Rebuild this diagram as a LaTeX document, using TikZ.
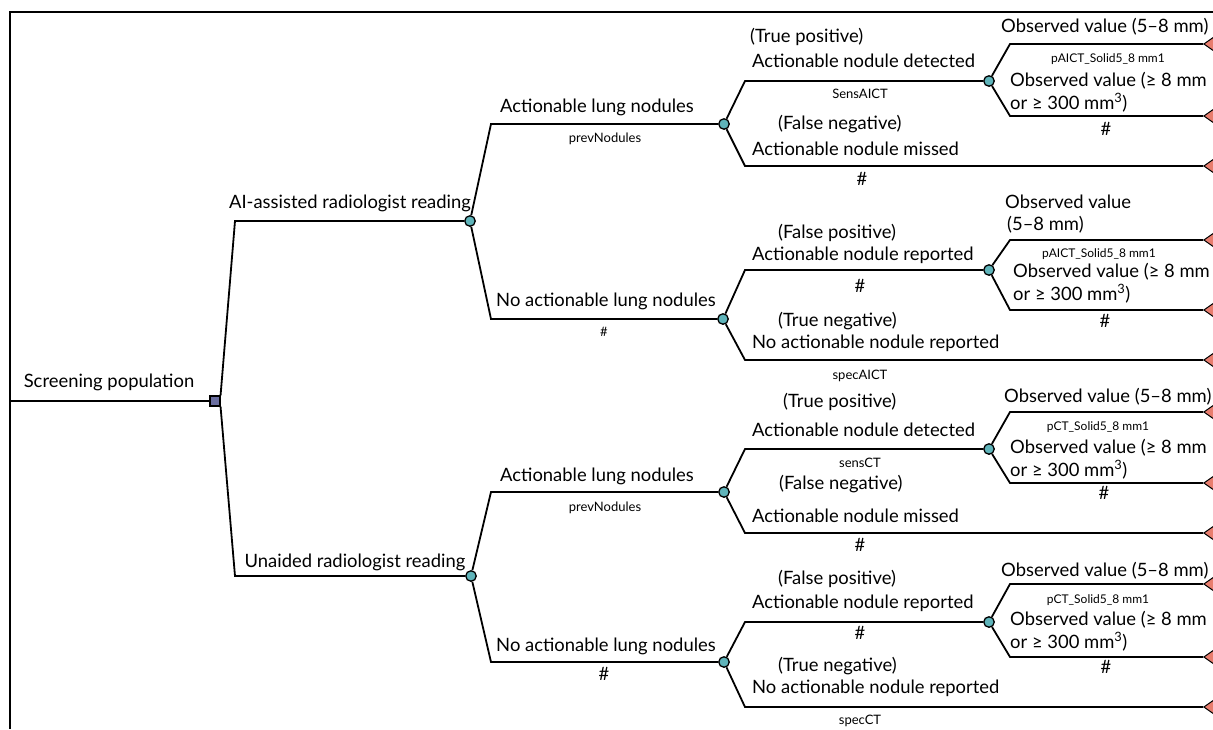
\documentclass[tikz,border=0pt]{standalone}
\usepackage{fontspec}
\setmainfont{Lato}
\usetikzlibrary{shapes.geometric}
\definecolor{chancecol}{RGB}{95,180,186}
\definecolor{decisioncol}{RGB}{106,110,160}
\definecolor{termcol}{RGB}{232,125,110}
\tikzset{
  br/.style={line width=1.8pt, line join=miter},
  chance/.style={circle, draw, line width=1.3pt, fill=chancecol, minimum size=10.5pt, inner sep=0pt},
  decision/.style={rectangle, draw, line width=1.1pt, fill=decisioncol, minimum size=10pt, inner sep=0pt},
  terminal/.style={isosceles triangle, shape border rotate=180, isosceles triangle apex angle=70, draw, line width=1pt, fill=termcol, minimum height=14pt, inner sep=0pt, anchor=apex},
  lbl/.style={font=\fontsize{18.4}{22}\selectfont, inner sep=0pt},
  sm/.style={font=\fontsize{13}{15}\selectfont, inner sep=0pt},
  smn/.style={font=\fontsize{12}{15}\selectfont, inner sep=0pt},
}
\begin{document}
\begin{tikzpicture}[x=1pt,y=-1pt]
\useasboundingbox (0,0) rectangle (1213,729);
% frame
\draw[br] (1213,12) -- (10,12) -- (10,729);
% decision
\coordinate (start) at (10,401);
\node[decision] (root) at (215,401) {};
\draw[br] (start) -- (root);
\node[lbl, anchor=base] (tRoot) at (109,387) {Screening population};
% strategy chance nodes
\node[chance] (ai) at (470,221) {};
\node[chance] (un) at (471,576) {};
\coordinate (aiK) at (235,221);
\coordinate (unK) at (235,576);
\draw[br] (root.north east) -- (aiK) -- (ai);
\draw[br] (root.south east) -- (unK) -- (un);
\node[lbl, anchor=base] (tAI) at (350,208) {AI-assisted radiologist reading};
\node[lbl, anchor=base] (tUN) at (355,567) {Unaided radiologist reading};

% ===== AI branch =====
\node[chance] (aiP) at (724,124) {};
\node[chance] (aiN) at (723,319) {};
\coordinate (aiPK) at (491,124);
\coordinate (aiNK) at (491,319);
\draw[br] (ai) -- (aiPK) -- (aiP);
\draw[br] (ai) -- (aiNK) -- (aiN);
\node[lbl, anchor=base] (tAIP) at (597,112) {Actionable lung nodules};
\node[sm, anchor=base] (pAIP) at (605,142) {prevNodules};
\node[lbl, anchor=base] (tAIN) at (606,306) {No actionable lung nodules};
\node[sm, anchor=base] (pAIN) at (604,336) {\#};

% AI positive
\node[chance] (aiPd) at (989,81) {};
\coordinate (aiPdK) at (745,81);
\coordinate (aiPmK) at (745,166);
\node[terminal] (aiPm) at (1203,166) {};
\draw[br] (aiP) -- (aiPdK) -- (aiPd);
\draw[br] (aiP) -- (aiPmK) -- (aiPm);
\node[lbl, anchor=base west] (tAIPd1) at (750,42) {(True positive)};
\node[lbl, anchor=base west] (tAIPd2) at (752,67) {Actionable nodule detected};
\node[sm, anchor=base] (pAIPd) at (860,98) {SensAICT};
\node[lbl, anchor=base west] (tAIPm1) at (778,129) {(False negative)};
\node[lbl, anchor=base west] (tAIPm2) at (752,155) {Actionable nodule missed};
\node[lbl, anchor=base] (pAIPm) at (862,185) {\#};

\node[terminal] (aiPdS) at (1203,44) {};
\node[terminal] (aiPdL) at (1203,116) {};
\coordinate (aiPdSK) at (1010,44);
\coordinate (aiPdLK) at (1010,116);
\draw[br] (aiPd) -- (aiPdSK) -- (aiPdS);
\draw[br] (aiPd) -- (aiPdLK) -- (aiPdL);
\node[lbl, anchor=base west] (tAIPdS) at (1001,32) {Observed value (5–8 mm)};
\node[smn, anchor=base] (pAIPdS) at (1108,62) {pAICT\_Solid5\_8 mm1};
\node[lbl, anchor=base west] (tAIPdL1) at (1010,86) {Observed value (≥ 8 mm};
\node[lbl, anchor=base west] (tAIPdL2) at (1010,109) {or ≥ 300 mm\textsuperscript{3})};
\node[lbl, anchor=base] (pAIPdL) at (1106,135) {\#};

% AI negative
\node[chance] (aiNr) at (989,270) {};
\coordinate (aiNrK) at (745,270);
\coordinate (aiNnK) at (745,360);
\node[terminal] (aiNn) at (1203,360) {};
\draw[br] (aiN) -- (aiNrK) -- (aiNr);
\draw[br] (aiN) -- (aiNnK) -- (aiNn);
\node[lbl, anchor=base west] (tAINr1) at (778,238) {(False positive)};
\node[lbl, anchor=base west] (tAINr2) at (752,260) {Actionable nodule reported};
\node[lbl, anchor=base] (pAINr) at (860,292) {\#};
\node[lbl, anchor=base west] (tAINn1) at (778,326) {(True negative)};
\node[lbl, anchor=base west] (tAINn2) at (752,348) {No actionable nodule reported};
\node[sm, anchor=base] (pAINn) at (860,379) {specAICT};

\node[terminal] (aiNrS) at (1203,240) {};
\node[terminal] (aiNrL) at (1203,310) {};
\coordinate (aiNrSK) at (1010,240);
\coordinate (aiNrLK) at (1010,310);
\draw[br] (aiNr) -- (aiNrSK) -- (aiNrS);
\draw[br] (aiNr) -- (aiNrLK) -- (aiNrL);
\node[lbl, anchor=base west] (tAINrS1) at (1005,208) {Observed value};
\node[lbl, anchor=base west] (tAINrS2) at (1007,230) {(5–8 mm)};
\node[smn, anchor=base] (pAINrS) at (1099,257) {pAICT\_Solid5\_8 mm1};
\node[lbl, anchor=base west] (tAINrL1) at (1013,277) {Observed value (≥ 8 mm};
\node[lbl, anchor=base west] (tAINrL2) at (1013,300) {or ≥ 300 mm\textsuperscript{3})};
\node[lbl, anchor=base] (pAINrL) at (1105,327) {\#};

% ===== Unaided branch =====
\node[chance] (unP) at (724,492) {};
\node[chance] (unN) at (724,662) {};
\coordinate (unPK) at (491,492);
\coordinate (unNK) at (491,662);
\draw[br] (un) -- (unPK) -- (unP);
\draw[br] (un) -- (unNK) -- (unN);
\node[lbl, anchor=base] (tUNP) at (597,481) {Actionable lung nodules};
\node[sm, anchor=base] (pUNP) at (605,511) {prevNodules};
\node[lbl, anchor=base] (tUNN) at (606,651) {No actionable lung nodules};
\node[lbl, anchor=base] (pUNN) at (604,680) {\#};

% Unaided positive
\node[chance] (unPd) at (989,449) {};
\coordinate (unPdK) at (745,449);
\coordinate (unPmK) at (745,533);
\node[terminal] (unPm) at (1203,533) {};
\draw[br] (unP) -- (unPdK) -- (unPd);
\draw[br] (unP) -- (unPmK) -- (unPm);
\node[lbl, anchor=base west] (tUNPd1) at (783,407) {(True positive)};
\node[lbl, anchor=base west] (tUNPd2) at (752,436) {Actionable nodule detected};
\node[sm, anchor=base] (pUNPd) at (860,467) {sensCT};
\node[lbl, anchor=base west] (tUNPm1) at (779,489) {(False negative)};
\node[lbl, anchor=base west] (tUNPm2) at (752,522) {Actionable nodule missed};
\node[lbl, anchor=base] (pUNPm) at (860,551) {\#};

\node[terminal] (unPdS) at (1203,412) {};
\node[terminal] (unPdL) at (1203,483) {};
\coordinate (unPdSK) at (1010,412);
\coordinate (unPdLK) at (1010,483);
\draw[br] (unPd) -- (unPdSK) -- (unPdS);
\draw[br] (unPd) -- (unPdLK) -- (unPdL);
\node[lbl, anchor=base west] (tUNPdS) at (1004,402) {Observed value (5–8 mm)};
\node[smn, anchor=base] (pUNPdS) at (1098,430) {pCT\_Solid5\_8 mm1};
\node[lbl, anchor=base west] (tUNPdL1) at (1010,453) {Observed value (≥ 8 mm};
\node[lbl, anchor=base west] (tUNPdL2) at (1010,476) {or ≥ 300 mm\textsuperscript{3})};
\node[lbl, anchor=base] (pUNPdL) at (1104,499) {\#};

% Unaided negative
\node[chance] (unNr) at (989,622) {};
\coordinate (unNrK) at (745,622);
\coordinate (unNnK) at (745,707);
\node[terminal] (unNn) at (1203,707) {};
\draw[br] (unN) -- (unNrK) -- (unNr);
\draw[br] (unN) -- (unNnK) -- (unNn);
\node[lbl, anchor=base west] (tUNNr1) at (778,584) {(False positive)};
\node[lbl, anchor=base west] (tUNNr2) at (752,608) {Actionable nodule reported};
\node[lbl, anchor=base] (pUNNr) at (860,639) {\#};
\node[lbl, anchor=base west] (tUNNn1) at (778,671) {(True negative)};
\node[lbl, anchor=base west] (tUNNn2) at (752,693) {No actionable nodule reported};
\node[sm, anchor=base] (pUNNn) at (860,724) {specCT};

\node[terminal] (unNrS) at (1203,584) {};
\node[terminal] (unNrL) at (1203,657) {};
\coordinate (unNrSK) at (1010,584);
\coordinate (unNrLK) at (1010,657);
\draw[br] (unNr) -- (unNrSK) -- (unNrS);
\draw[br] (unNr) -- (unNrLK) -- (unNrL);
\node[lbl, anchor=base west] (tUNNrS) at (1001,576) {Observed value (5–8 mm)};
\node[smn, anchor=base] (pUNNrS) at (1098,603) {pCT\_Solid5\_8 mm1};
\node[lbl, anchor=base west] (tUNNrL1) at (1010,625) {Observed value (≥ 8 mm};
\node[lbl, anchor=base west] (tUNNrL2) at (1010,648) {or ≥ 300 mm\textsuperscript{3})};
\node[lbl, anchor=base] (pUNNrL) at (1106,673) {\#};
\end{tikzpicture}
\end{document}
